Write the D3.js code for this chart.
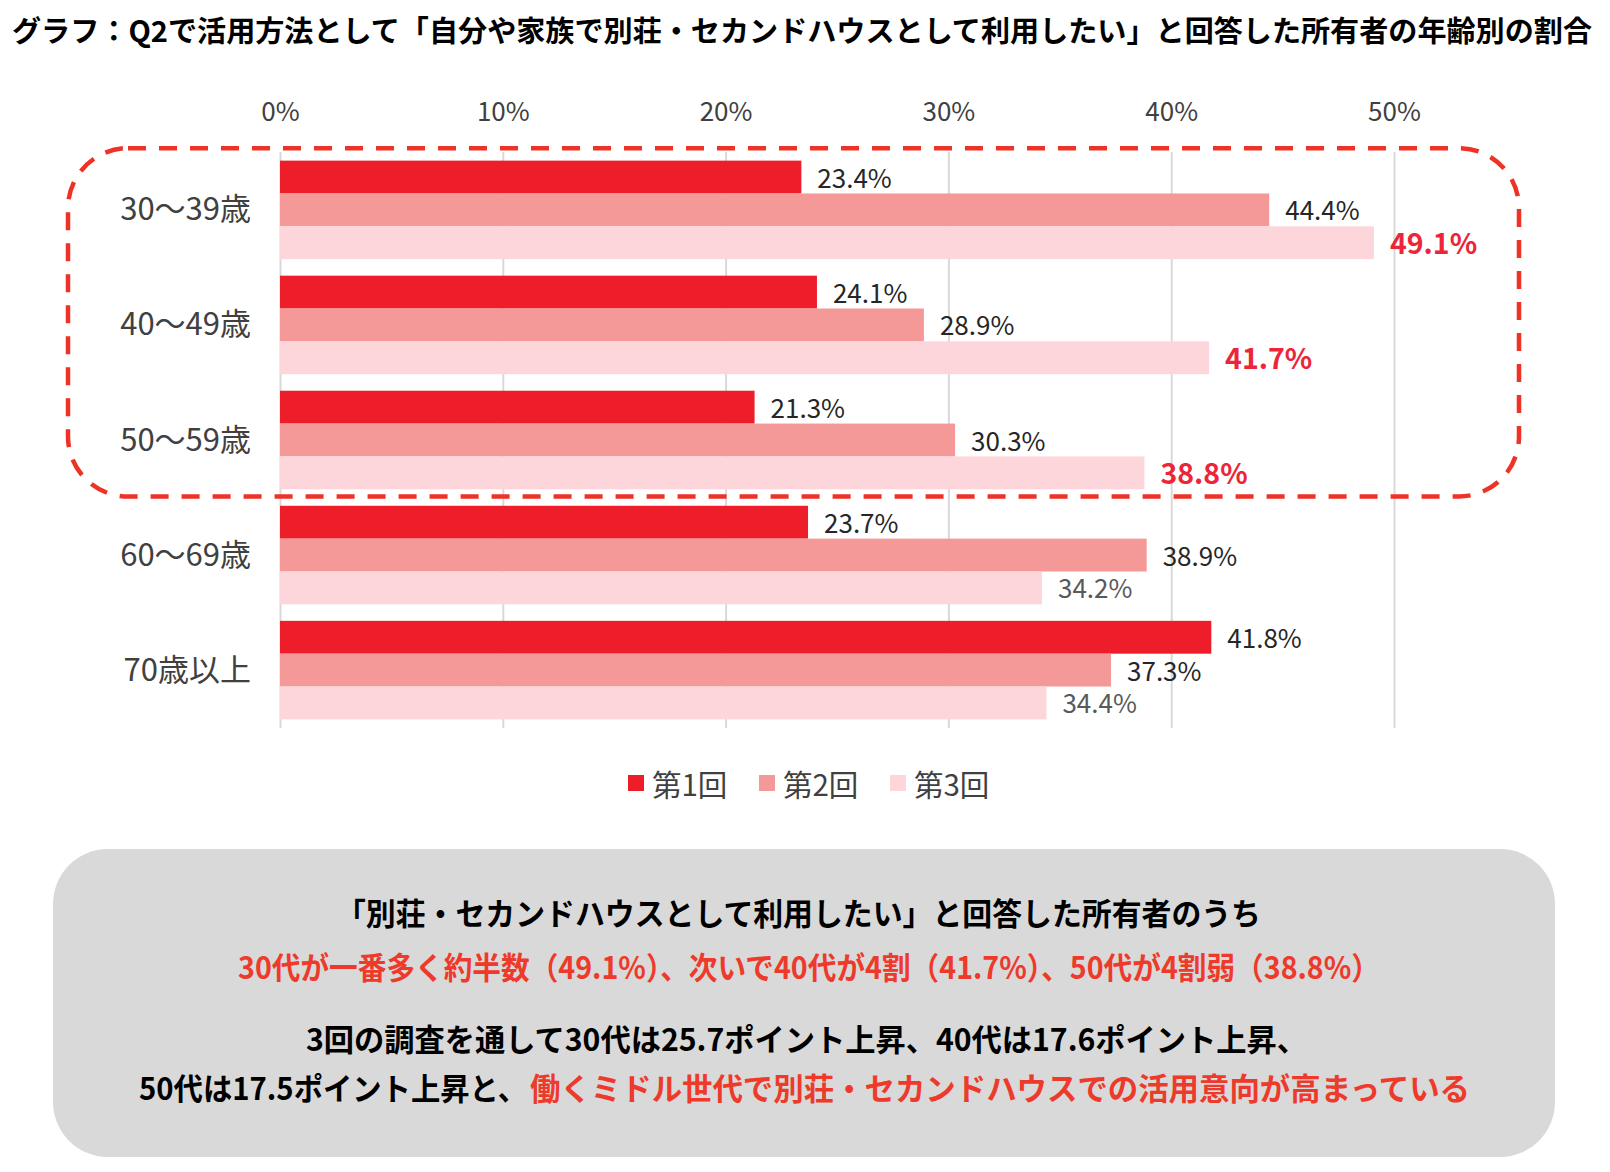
<!DOCTYPE html>
<html><head><meta charset="utf-8">
<script src="https://cdn.jsdelivr.net/npm/d3@7"></script>
<style>
html,body{margin:0;padding:0;background:#fff;}
svg{display:block;}
text{font-family:"Noto Sans CJK JP","Noto Sans",sans-serif;}
</style></head>
<body>
<svg id="chart" width="1610" height="1172"></svg>
<script>
const titleText = "グラフ：Q2で活用方法として「自分や家族で別荘・セカンドハウスとして利用したい」と回答した所有者の年齢別の割合";
const categories = ["30～39歳","40～49歳","50～59歳","60～69歳","70歳以上"];
const seriesNames = ["第1回","第2回","第3回"];
const series1 = [23.4,24.1,21.3,23.7,41.8];
const series2 = [44.4,28.9,30.3,38.9,37.3];
const series3 = [49.1,41.7,38.8,34.2,34.4];
const tickValues = [0,10,20,30,40,50];
const highlighted = ["30～39歳","40～49歳","50～59歳"];
const noteLines = [
  [{t:"「別荘・セカンドハウスとして利用したい」と回答した所有者のうち",red:false}],
  [{t:"30代が一番多く約半数（49.1%）、次いで40代が4割（41.7%）、50代が4割弱（38.8%）",red:true}],
  [{t:"3回の調査を通して30代は25.7ポイント上昇、40代は17.6ポイント上昇、",red:false}],
  [{t:"50代は17.5ポイント上昇と、",red:false},{t:"働くミドル世代で別荘・セカンドハウスでの活用意向が高まっている",red:true}]
];

const colors = ["#ED1E2A","#F49898","#FCD6DA"];
const allSeries = [series1, series2, series3];

const svg = d3.select("#chart");

// Title
svg.append("text").attr("x",12).attr("y",42)
  .attr("font-size",29).attr("font-weight",700).attr("fill","#000")
  .attr("textLength",1580).attr("lengthAdjust","spacingAndGlyphs")
  .text(titleText);

const x = d3.scaleLinear().domain([0,50]).range([280,1394]);
const plotTop = 152, plotBottom = 728;
const y = d3.scaleBand().domain(categories).range([plotTop,plotBottom]).paddingInner(0.1436).paddingOuter(0.075);
const ySub = d3.scaleBand().domain([0,1,2]).range([0,y.bandwidth()]);

// Axis + gridlines
const axis = d3.axisTop(x).tickValues(tickValues).tickSize(-(plotBottom-plotTop)).tickPadding(31).tickFormat(d=>d+"%");
const gAxis = svg.append("g").attr("transform",`translate(0,${plotTop})`).call(axis);
gAxis.select(".domain").remove();
gAxis.selectAll(".tick line").attr("stroke","#D9D9D9").attr("stroke-width",2);
gAxis.selectAll(".tick text").attr("font-size",26).attr("fill","#404040")
  .attr("font-family",'"Noto Sans CJK JP","Noto Sans",sans-serif');

// Category labels
svg.append("g").selectAll("text").data(categories).join("text")
  .attr("x",251).attr("y",d=>y(d)+y.bandwidth()/2-3)
  .attr("text-anchor","end").attr("dominant-baseline","central")
  .attr("font-size",31).attr("fill","#404040").text(d=>d);

// Bars
const barData = [];
categories.forEach((c,i)=>{
  allSeries.forEach((s,j)=>{ barData.push({cat:c, s:j, v:s[i]}); });
});
svg.append("g").selectAll("rect").data(barData).join("rect")
  .attr("x",x(0)).attr("y",d=>y(d.cat)+ySub(d.s))
  .attr("width",d=>x(d.v)-x(0)).attr("height",ySub.bandwidth())
  .attr("fill",d=>colors[d.s]);

// Value labels
svg.append("g").selectAll("text").data(barData).join("text")
  .attr("x",d=>x(d.v)+16)
  .attr("y",d=>y(d.cat)+ySub(d.s)+ySub.bandwidth()/2-1)
  .attr("dominant-baseline","central")
  .each(function(d){
    const hl = d.s===2 && highlighted.includes(d.cat);
    d3.select(this)
      .attr("font-size",hl?28.5:26)
      .attr("font-weight",hl?700:400)
      .attr("fill",hl?"#EC2539":(d.s===2?"#595959":"#262626"));
  })
  .text(d=>d.v.toFixed(1)+"%");

// Dashed highlight box
const gap = y.step()-y.bandwidth();
const boxTop = y(highlighted[0]) - 12.5;
const boxBottom = y(highlighted[highlighted.length-1]) + y.bandwidth() + gap/2 - 1;
svg.append("rect").attr("x",68).attr("y",boxTop).attr("width",1519-68).attr("height",boxBottom-boxTop)
  .attr("rx",60).attr("ry",60).attr("fill","none").attr("stroke","#EE3226")
  .attr("stroke-width",4.5).attr("stroke-dasharray","18 13");

// Legend
const legendX = [628,759,890];
const lg = svg.append("g").selectAll("g").data(seriesNames).join("g")
  .attr("transform",(d,i)=>`translate(${legendX[i]},783)`);
lg.append("rect").attr("x",0).attr("y",-8).attr("width",16).attr("height",16).attr("fill",(d,i)=>colors[i]);
lg.append("text").attr("x",24).attr("y",0).attr("dominant-baseline","central")
  .attr("font-size",29.5).attr("fill","#404040").text(d=>d);

// Note box
svg.append("rect").attr("x",53).attr("y",849).attr("width",1555-53).attr("height",1157-849)
  .attr("rx",55).attr("ry",55).attr("fill","#D9D9D9");

const lineSpec = [
  {y:911, segs:[[336,1261]]},
  {y:965, segs:[[238,1380]]},
  {y:1037, segs:[[306,1307]]},
  {y:1086, segs:[[139,527],[530,1470]]}
];
noteLines.forEach((line,li)=>{
  line.forEach((seg,si)=>{
    const [x0,x1] = lineSpec[li].segs[si];
    svg.append("text").attr("x",x0).attr("y",lineSpec[li].y)
      .attr("dominant-baseline","central")
      .attr("font-size",31).attr("font-weight",700)
      .attr("fill",seg.red?"#EE3A2A":"#000")
      .attr("textLength",x1-x0).attr("lengthAdjust","spacingAndGlyphs")
      .text(seg.t);
  });
});
</script>
</body></html>
